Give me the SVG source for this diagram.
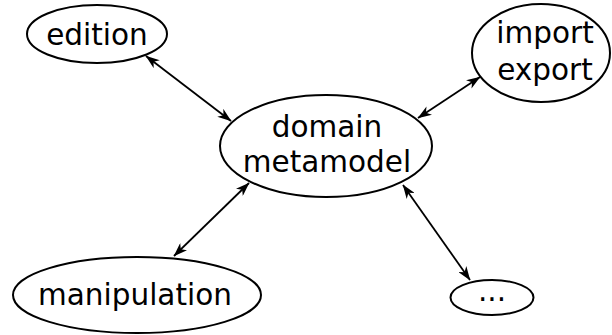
<svg xmlns="http://www.w3.org/2000/svg" width="612" height="335" viewBox="0 0 612 335">
<style>
ellipse{fill:#fff;stroke:#000;stroke-width:2}
text{font-family:"DejaVu Sans",sans-serif;font-size:29.5px;text-anchor:middle;fill:#000}
.c line{stroke:#000;stroke-width:1.8}
</style>
<defs>
<marker id="a" viewBox="0 0 14 10" refX="13.5" refY="5" markerWidth="14" markerHeight="10" markerUnits="userSpaceOnUse" orient="auto-start-reverse">
<path d="M0,0 L14,5 L0,10 L4,5 z" fill="#000"/>
</marker>
</defs>
<g class="c">
<line x1="146" y1="56" x2="231" y2="121" marker-start="url(#a)" marker-end="url(#a)"/>
<line x1="480" y1="77" x2="418" y2="118" marker-start="url(#a)" marker-end="url(#a)"/>
<line x1="249" y1="183" x2="174" y2="256" marker-start="url(#a)" marker-end="url(#a)"/>
<line x1="403" y1="185" x2="470" y2="280" marker-start="url(#a)" marker-end="url(#a)"/>
</g>
<g id="edition"><ellipse cx="97" cy="34" rx="70" ry="29"/><text x="97" y="45">edition</text></g>
<g id="importexport"><ellipse cx="541" cy="53" rx="69" ry="49"/><text x="545" y="43">import</text><text x="545" y="80">export</text></g>
<g id="domain"><ellipse cx="326" cy="146" rx="106" ry="51"/><text x="327" y="137">domain</text><text x="327" y="172">metamodel</text></g>
<g id="manipulation"><ellipse cx="137" cy="295" rx="124" ry="38"/><text x="135" y="305">manipulation</text></g>
<g id="etc"><ellipse cx="492" cy="297.5" rx="41.5" ry="17.5"/><text x="492" y="301">...</text></g>
</svg>
